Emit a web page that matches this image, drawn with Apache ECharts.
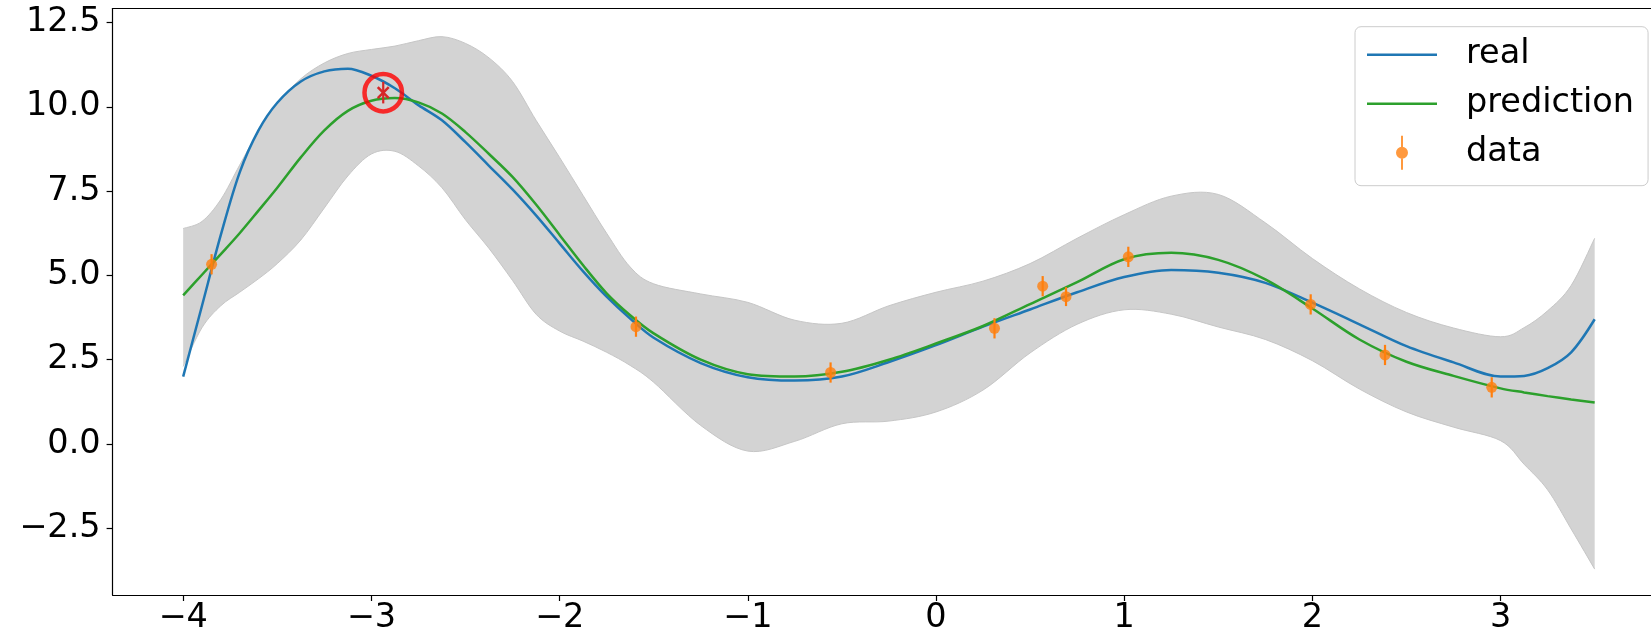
<!DOCTYPE html>
<html>
<head>
<meta charset="utf-8">
<script src="https://cdn.jsdelivr.net/npm/echarts@6/dist/echarts.min.js"></script>
<style>
  html, body { margin: 0; padding: 0; background: #ffffff; }
  #chart { width: 1651px; height: 635px; }
</style>
</head>
<body>
<div id="chart"></div>
<script>
// x positions where the curves and the band are sampled
const gridX = [-4, -3.9, -3.8, -3.7, -3.6, -3.5, -3.375, -3.25, -3.125, -3, -2.875, -2.75, -2.625, -2.5,
  -2.375, -2.25, -2.125, -2, -1.875, -1.75, -1.625, -1.5, -1.25, -1, -0.75, -0.5, -0.25, 0,
  0.25, 0.5, 0.75, 1, 1.25, 1.5, 1.75, 2, 2.25, 2.5, 2.75, 3, 3.125, 3.25, 3.375, 3.5];

// true function
const realY = [2.0, 4.1, 6.2, 8.05, 9.3, 10.12, 10.75, 11.05, 11.13, 10.92, 10.55, 10.05, 9.6, 8.95,
  8.25, 7.55, 6.78, 5.95, 5.12, 4.37, 3.72, 3.15, 2.4, 1.98, 1.88, 2.0, 2.43, 2.93,
  3.48, 3.99, 4.5, 4.95, 5.16, 5.08, 4.78, 4.19, 3.55, 2.9, 2.42, 2.0, 2.02, 2.25, 2.72, 3.7];

// model mean
const predY = [4.41, 5.02, 5.63, 6.25, 6.92, 7.6, 8.5, 9.3, 9.88, 10.18, 10.26, 10.13, 9.8, 9.25,
  8.6, 7.92, 7.1, 6.2, 5.3, 4.47, 3.82, 3.28, 2.5, 2.07, 2.0, 2.14, 2.5, 2.98,
  3.5, 4.15, 4.8, 5.48, 5.67, 5.46, 4.88, 4.02, 3.1, 2.44, 2.02, 1.65, 1.53, 1.42, 1.32, 1.23];

// confidence band edges
const bandUpper = [6.39, 6.6, 7.25, 8.27, 9.27, 10.1, 10.83, 11.3, 11.58, 11.7, 11.8, 11.96, 12.08, 11.88,
  11.45, 10.75, 9.6, 8.5, 7.37, 6.25, 5.25, 4.75, 4.45, 4.2, 3.67, 3.58, 4.1, 4.5,
  4.83, 5.35, 6.1, 6.8, 7.35, 7.4, 6.56, 5.5, 4.6, 3.9, 3.44, 3.18, 3.45, 3.95, 4.7, 6.1];
const bandLower = [2.3, 3.45, 4.1, 4.5, 4.9, 5.35, 6.05, 7.0, 7.95, 8.6, 8.68, 8.25, 7.6, 6.65,
  5.8, 4.85, 3.85, 3.35, 3.05, 2.72, 2.33, 1.83, 0.55, -0.21, 0.08, 0.6, 0.68, 0.95,
  1.6, 2.7, 3.55, 3.98, 3.85, 3.47, 3.1, 2.47, 1.63, 0.95, 0.5, 0.1, -0.6, -1.36, -2.52, -3.71];

// noisy observations with their error bars
const obsX = [-3.849, -2.937, -1.594, -0.56, 0.311, 0.567, 0.691, 1.022, 1.991, 2.386, 2.953];
const obsY = [5.33, 10.42, 3.48, 2.12, 3.43, 4.68, 4.37, 5.55, 4.14, 2.64, 1.68];
const obsErr = [0.3, 0.32, 0.3, 0.3, 0.3, 0.3, 0.28, 0.3, 0.3, 0.3, 0.3];
const flaggedIndex = 1; // observation marked with a red cross and ring

// axis tick labels
const xTicks = [-4, -3, -2, -1, 0, 1, 2, 3];
const yTicks = [-2.5, 0, 2.5, 5, 7.5, 10, 12.5];

const FONT = 'DejaVu Sans';
const BLUE = '#1f77b4', GREEN = '#2ca02c', ORANGE = '#ff7f0e', RED = '#d62728';
const X_MIN = -4.375, X_MAX = 3.7993, Y_MIN = -4.478, Y_MAX = 12.915;

const pairs = (xs, ys) => xs.map((x, i) => [x, ys[i]]);
const fmt = (v, d) => (v < 0 ? '\u2212' : '') + Math.abs(v).toFixed(d);

const normal = [], flagged = [];
obsX.forEach((x, i) => {
  const row = [x, obsY[i], obsErr[i]];
  if (i === flaggedIndex) flagged.push(row); else normal.push(row);
});

// smooth cubic path through screen points (Catmull-Rom)
function smoothSegments(pts) {
  let d = '';
  for (let i = 0; i < pts.length - 1; i++) {
    const p0 = pts[i - 1] || pts[i], p1 = pts[i], p2 = pts[i + 1], p3 = pts[i + 2] || pts[i + 1];
    const c1 = [p1[0] + (p2[0] - p0[0]) / 6, p1[1] + (p2[1] - p0[1]) / 6];
    const c2 = [p2[0] - (p3[0] - p1[0]) / 6, p2[1] - (p3[1] - p1[1]) / 6];
    d += ' C' + c1[0] + ' ' + c1[1] + ' ' + c2[0] + ' ' + c2[1] + ' ' + p2[0] + ' ' + p2[1];
  }
  return d;
}

// shaded confidence band between bandLower and bandUpper
function renderBand(params, api) {
  const up = gridX.map((x, i) => api.coord([x, bandUpper[i]]));
  const lo = gridX.map((x, i) => api.coord([x, bandLower[i]])).reverse();
  const upD = 'M' + up[0][0] + ' ' + up[0][1] + smoothSegments(up);
  const loD = 'M' + lo[0][0] + ' ' + lo[0][1] + smoothSegments(lo);
  const fillD = upD + ' L' + lo[0][0] + ' ' + lo[0][1] + smoothSegments(lo) + ' Z';
  return {
    type: 'group',
    children: [
      { type: 'path', shape: { pathData: fillD }, style: { fill: '#d3d3d3', stroke: null } },
      { type: 'path', shape: { pathData: upD }, style: { fill: null, stroke: '#c6c6c6', lineWidth: 1 } },
      { type: 'path', shape: { pathData: loD }, style: { fill: null, stroke: '#c6c6c6', lineWidth: 1 } }
    ]
  };
}

// vertical error bar, optionally with an x-shaped marker at the value
function errorBar(color, width, withCross) {
  return function (params, api) {
    const x = api.value(0), y = api.value(1), e = api.value(2);
    const top = api.coord([x, y + e]);
    const bot = api.coord([x, y - e]);
    const c = api.coord([x, y]);
    const children = [{
      type: 'line',
      shape: { x1: top[0], y1: top[1], x2: bot[0], y2: bot[1] },
      style: { stroke: color, lineWidth: width }
    }];
    if (withCross) {
      const h = 5.5;
      children.push({ type: 'line', shape: { x1: c[0] - h, y1: c[1] - h, x2: c[0] + h, y2: c[1] + h },
        style: { stroke: color, lineWidth: 2.5 } });
      children.push({ type: 'line', shape: { x1: c[0] - h, y1: c[1] + h, x2: c[0] + h, y2: c[1] - h },
        style: { stroke: color, lineWidth: 2.5 } });
    }
    return { type: 'group', children };
  };
}

const axisLineStyle = { color: '#000000', width: 1.2 };

const chart = echarts.init(document.getElementById('chart'), null, { renderer: 'canvas' });

chart.setOption({
  animation: false,
  backgroundColor: '#ffffff',
  textStyle: { fontFamily: FONT },
  grid: { left: 112.6, right: 0, top: 8.5, bottom: 40 },
  xAxis: [
    {
      type: 'value', min: X_MIN, max: X_MAX, position: 'bottom',
      splitLine: { show: false },
      axisLine: { show: true, onZero: false, lineStyle: axisLineStyle },
      axisTick: { show: true, length: 6, customValues: xTicks, lineStyle: axisLineStyle },
      axisLabel: {
        customValues: xTicks, margin: 6, color: '#000', fontFamily: FONT, fontSize: 33.5,
        formatter: v => fmt(v, 0)
      }
    },
    {
      // frame line along the top of the plot
      type: 'value', min: X_MIN, max: X_MAX, position: 'top',
      splitLine: { show: false },
      axisLine: { show: true, onZero: false, lineStyle: axisLineStyle },
      axisTick: { show: false }, axisLabel: { show: false }
    }
  ],
  yAxis: {
    type: 'value', min: Y_MIN, max: Y_MAX,
    splitLine: { show: false },
    axisLine: { show: true, onZero: false, lineStyle: axisLineStyle },
    axisTick: { show: true, length: 6, customValues: yTicks, lineStyle: axisLineStyle },
    axisLabel: {
      customValues: yTicks, margin: 12, color: '#000', fontFamily: FONT, fontSize: 33.5,
      padding: [10, 0, 0, 0],
      formatter: v => fmt(v, 1)
    }
  },
  legend: {
    orient: 'vertical', left: 1355, top: 26.7, align: 'left',
    padding: [11, 14, 16, 12], itemGap: 15, itemWidth: 70, itemHeight: 34,
    backgroundColor: 'rgba(255,255,255,0.8)', borderColor: '#cccccc', borderWidth: 1, borderRadius: 6,
    textStyle: { fontFamily: FONT, fontSize: 33.5, color: '#000', lineHeight: 34, padding: [0, 0, 0, 24] },
    data: [
      { name: 'real', icon: 'path://M0 0H70V2.5H0Z' },
      { name: 'prediction', icon: 'path://M0 0H70V2.5H0Z' },
      { name: 'data', icon: 'path://M5 0H7V34H5Z M0 17A6 6 0 1 1 12 17A6 6 0 1 1 0 17Z' }
    ]
  },
  series: [
    {
      name: 'band', type: 'custom', z: 1, silent: true,
      data: [[gridX[0], bandUpper[0]]], encode: { x: 0, y: 1 },
      renderItem: renderBand
    },
    {
      name: 'real', type: 'line', z: 3,
      data: pairs(gridX, realY), smooth: 0.33, symbol: 'none',
      color: BLUE, lineStyle: { color: BLUE, width: 2.5 }
    },
    {
      name: 'prediction', type: 'line', z: 4,
      data: pairs(gridX, predY), smooth: 0.33, symbol: 'none',
      color: GREEN, lineStyle: { color: GREEN, width: 2.5 }
    },
    {
      name: 'data-errors', type: 'custom', z: 5, silent: true,
      data: normal, encode: { x: 0, y: 1 },
      renderItem: errorBar(ORANGE, 2.2, false)
    },
    {
      name: 'data', type: 'scatter', z: 6,
      data: normal.map(r => [r[0], r[1]]),
      symbol: 'circle', symbolSize: 11, color: ORANGE, itemStyle: { color: ORANGE }
    },
    {
      name: 'flagged', type: 'custom', z: 7, silent: true,
      data: flagged, encode: { x: 0, y: 1 },
      renderItem: errorBar(RED, 2.2, true)
    },
    {
      name: 'flagged-ring', type: 'scatter', z: 8, silent: true,
      data: flagged.map(r => [r[0], r[1]]),
      symbol: 'circle', symbolSize: 37.5,
      itemStyle: { color: 'rgba(0,0,0,0)', borderColor: '#ff0000', borderWidth: 4.5 }
    }
  ]
});
</script>
</body>
</html>
